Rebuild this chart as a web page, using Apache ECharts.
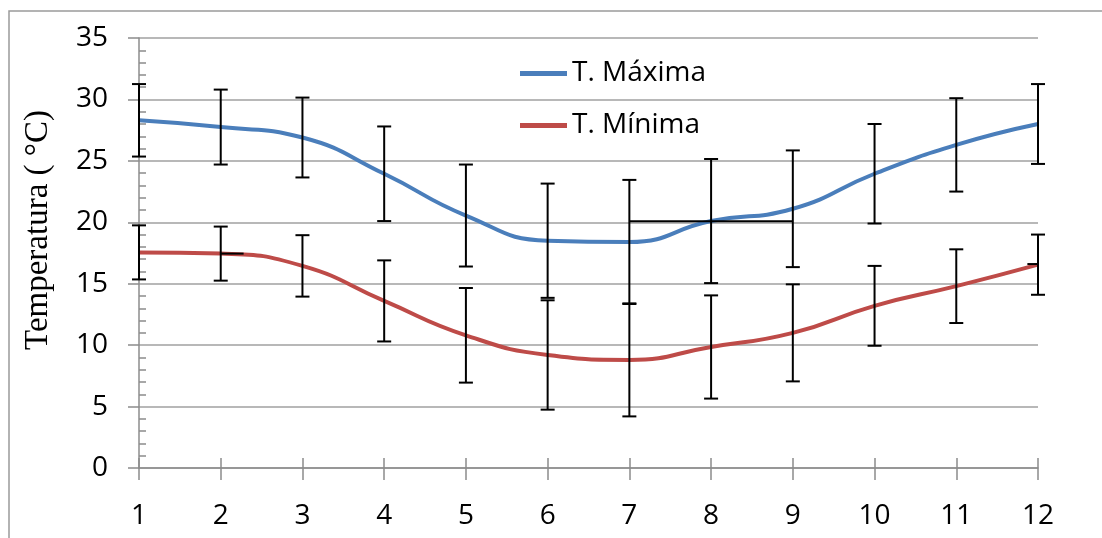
<!DOCTYPE html>
<html>
<head>
<meta charset="utf-8">
<script src="https://cdn.jsdelivr.net/npm/echarts@6/dist/echarts.min.js"></script>
<style>
html,body{margin:0;padding:0;background:#fff;}
#chart{width:1102px;height:538px;}
</style>
</head>
<body>
<div id="chart"></div>
<script>
const months = [1,2,3,4,5,6,7,8,9,10,11,12];
const tmax    = [28.3, 27.75, 26.9, 23.95, 20.55, 18.5, 18.4, 20.1, 21.1, 23.95, 26.3, 28.0];
const tmaxErr = [2.95, 3.05, 3.25, 3.85, 4.15, 4.65, 5.05, 5.05, 4.75, 4.05, 3.8, 3.25];
const tmin    = [17.55, 17.45, 16.45, 13.6, 10.8, 9.2, 8.8, 9.85, 11.0, 13.2, 14.8, 16.55];
const tminErr = [2.2, 2.2, 2.5, 3.3, 3.85, 4.45, 4.6, 4.2, 3.95, 3.25, 3.0, 2.45];
// stray horizontal error segments visible in the picture: [xFrom, xTo, y]
const xErrSegments = [[7, 9, 20.08], [2, 2.28, 17.45], [11.87, 12, 16.6]];
const yTicks = [0, 5, 10, 15, 20, 25, 30, 35];
const seriesNames = ['T. Máxima', 'T. Mínima'];

const chart = echarts.init(document.getElementById('chart'));
const labelFont = 'Open Sans';

function errData(vals, errs) {
  return months.map((m, i) => [m, vals[i] - errs[i], vals[i] + errs[i]]);
}
function renderErr(params, api) {
  const x = api.value(0);
  const p1 = api.coord([x, api.value(2)]);
  const p2 = api.coord([x, api.value(1)]);
  const w = 7;
  const style = { stroke: '#000', lineWidth: 2 };
  return { type: 'group', children: [
    { type: 'line', shape: { x1: p1[0], y1: p1[1], x2: p2[0], y2: p2[1] }, style },
    { type: 'line', shape: { x1: p1[0] - w, y1: p1[1], x2: p1[0] + w, y2: p1[1] }, style },
    { type: 'line', shape: { x1: p2[0] - w, y1: p2[1], x2: p2[0] + w, y2: p2[1] }, style }
  ]};
}
function renderSeg(params, api) {
  const a = api.coord([api.value(0), api.value(2)]);
  const b = api.coord([api.value(1), api.value(2)]);
  return { type: 'line', shape: { x1: a[0], y1: a[1], x2: b[0], y2: b[1] }, style: { stroke: '#000', lineWidth: 2 } };
}

const axisGray = '#8c8c8c';
const option = {
  animation: false,
  backgroundColor: '#fff',
  graphic: [{ type: 'rect', shape: { x: 9, y: 11, width: 1300, height: 700 }, style: { fill: 'none', stroke: '#9a9a9a', lineWidth: 1.5 }, z: -1 }],
  grid: { left: 139, right: 64, top: 38, bottom: 70, containLabel: false },
  legend: {
    data: seriesNames, orient: 'vertical', left: 520, top: 58, padding: 0,
    icon: 'rect', itemWidth: 47, itemHeight: 5, itemGap: 21,
    textStyle: { color: '#000', fontSize: 28, fontFamily: labelFont, lineHeight: 31 }
  },
  xAxis: [
    { type: 'value', min: 1, max: 12, interval: 1,
      axisLine: { lineStyle: { color: axisGray, width: 1.5 } },
      axisTick: { show: true, length: 12, lineStyle: { color: axisGray, width: 1.5 } },
      axisLabel: { color: '#000', fontSize: 28, fontFamily: labelFont, margin: 34, formatter: v => String(v) },
      splitLine: { show: false } },
    { type: 'value', min: 1, max: 12, interval: 1, position: 'bottom',
      axisLine: { show: false },
      axisTick: { show: true, inside: true, length: 10, lineStyle: { color: axisGray, width: 1.5 } },
      axisLabel: { show: false }, splitLine: { show: false } }
  ],
  yAxis: [
    { type: 'value', min: yTicks[0], max: yTicks[yTicks.length - 1], interval: 5,
      axisLine: { show: true, lineStyle: { color: axisGray, width: 1.5 } },
      axisTick: { show: true, length: 11, lineStyle: { color: axisGray, width: 1.5 } },
      axisLabel: { color: '#000', fontSize: 28, fontFamily: labelFont, margin: 31 },
      splitLine: { show: true, lineStyle: { color: '#a0a0a0', width: 1.5 } },
      name: 'Temperatura ( °C)', nameLocation: 'middle', nameGap: 84, nameRotate: 90,
      nameTextStyle: { color: '#000', fontSize: 33, fontFamily: 'Liberation Serif', padding: [0, 0, 0, 46] } },
    { type: 'value', min: yTicks[0], max: yTicks[yTicks.length - 1], interval: 5, position: 'left',
      axisLine: { show: false },
      axisTick: { show: false, inside: true },
      minorTick: { show: true, splitNumber: 5, length: 7, lineStyle: { color: axisGray, width: 1.5 } },
      axisLabel: { show: false }, splitLine: { show: false } }
  ],
  series: [
    { name: seriesNames[0], type: 'line', smooth: 0.5, showSymbol: false, symbol: 'none',
      data: months.map((m, i) => [m, tmax[i]]),
      lineStyle: { color: '#4a7ebb', width: 4 }, itemStyle: { color: '#4a7ebb' }, z: 2 },
    { name: seriesNames[1], type: 'line', smooth: 0.5, showSymbol: false, symbol: 'none',
      data: months.map((m, i) => [m, tmin[i]]),
      lineStyle: { color: '#be4b48', width: 4 }, itemStyle: { color: '#be4b48' }, z: 2 },
    { type: 'custom', renderItem: renderErr, data: errData(tmax, tmaxErr), z: 3, silent: true },
    { type: 'custom', renderItem: renderErr, data: errData(tmin, tminErr), z: 3, silent: true },
    { type: 'custom', renderItem: renderSeg, data: xErrSegments, z: 3, silent: true }
  ]
};
chart.setOption(option);
</script>
</body>
</html>
